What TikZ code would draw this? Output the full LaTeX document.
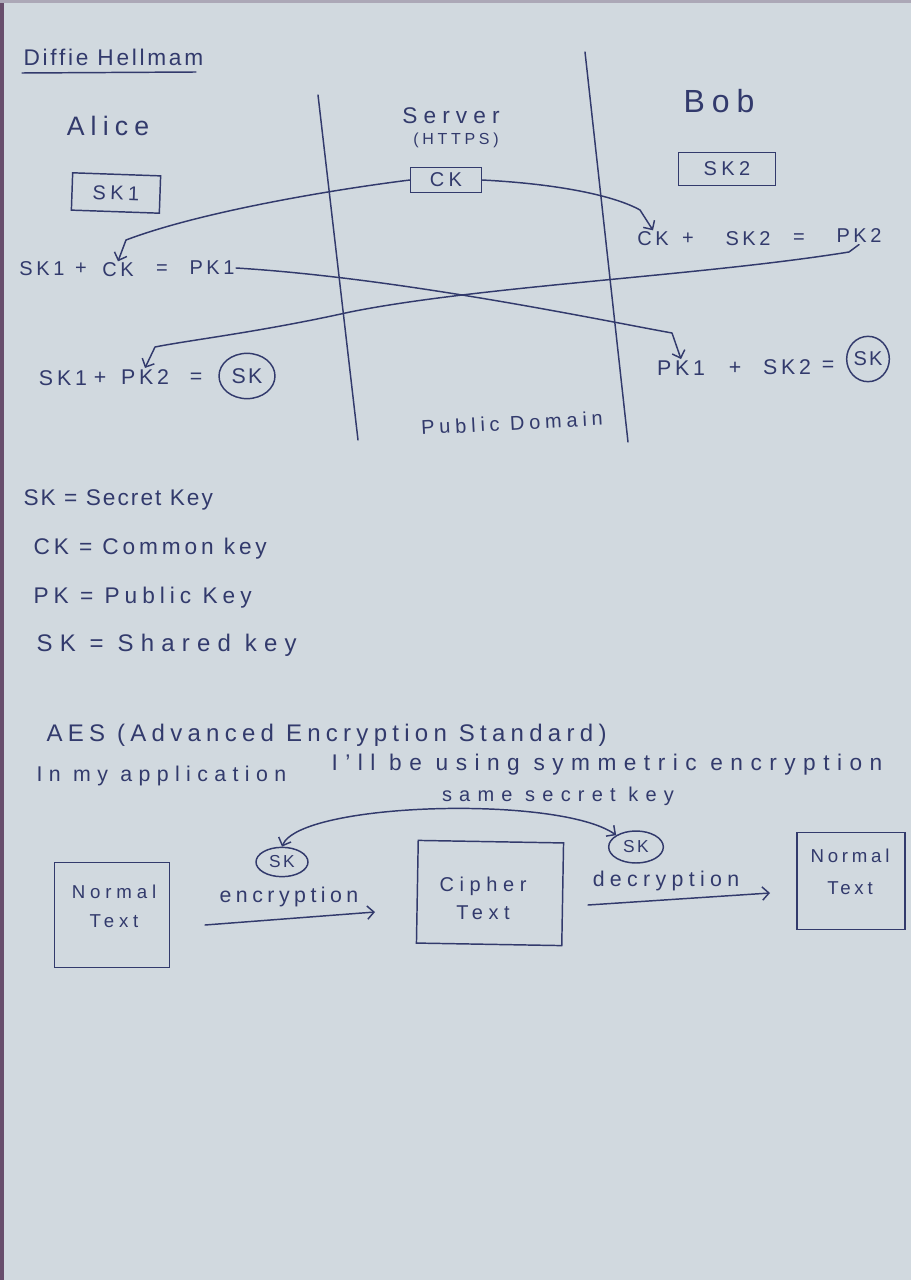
\documentclass[tikz,border=0pt]{standalone}
\usepackage{fontspec}
\setmainfont{Liberation Sans}
\usetikzlibrary{arrows.meta,shapes.geometric}

\definecolor{paper}{RGB}{209,217,223}
\definecolor{inkc}{RGB}{50,58,108}
\definecolor{edgec}{RGB}{104,78,108}

% size and letter spacing of hand-lettered labels
\newcommand{\hf}[2]{\fontsize{#1}{#1}\selectfont\addfontfeature{LetterSpace=#2}}

\tikzset{
  pen/.style={draw=inkc, line width=1.1pt, line cap=round, line join=round},
  lbl/.style={text=inkc, inner sep=1pt, font=\hf{15}{18}},
  keybox/.style={lbl, draw=inkc, line width=1.1pt, inner sep=0pt},
  shared/.style={lbl, draw=inkc, line width=1.1pt, ellipse, inner sep=0pt},
  skoval/.style={lbl, draw=inkc, line width=1.1pt, ellipse, inner sep=0pt,
                 minimum width=39pt, minimum height=22pt, font=\hf{13}{14}},
  docbox/.style={draw=inkc, line width=1.1pt},
  doctext/.style={lbl, align=center, font=\hf{14}{26}},
  arr/.style={pen, -{Straight Barb[length=5pt,width=10pt]}},
  twoarr/.style={pen, {Straight Barb[length=5pt,width=10pt]}-{Straight Barb[length=5pt,width=10pt]}}
}

\begin{document}
\begin{tikzpicture}[x=0.75pt,y=-0.75pt]
% sheet of paper
\fill[paper] (0,0) rectangle (911,1280);
\fill[edgec] (0,0) rectangle (4,1280);
\fill[edgec!35!paper] (0,0) rectangle (911,3);
\useasboundingbox (0,0) rectangle (911,1280);

% ---------------- Diffie Hellman exchange ----------------
\node[lbl, font=\hf{17}{12}, anchor=west] (title) at (22,57) {Diffie Hellmam};
\coordinate (ulA) at (22,73);
\coordinate (ulB) at (196,72);
\draw[pen] (ulA) -- (ulB);

% lane separators
\coordinate (d1a) at (318,95);
\coordinate (d1b) at (358,440);
\coordinate (d2a) at (585,52);
\coordinate (d2b) at (628,442);
\draw[pen] (d1a) -- (d1b);
\draw[pen] (d2a) -- (d2b);

% parties
\node[lbl, font=\hf{20}{23}] (alice) at (108,126) {Alice};
\node[lbl, font=\hf{17}{27}] (server) at (451,116) {Server};
\node[lbl, font=\hf{12}{23}] (https) at (456,140) {(HTTPS)};
\node[lbl, font=\hf{24}{22}] (bob) at (719,101) {Bob};

% keys
\node[keybox, minimum width=66pt, minimum height=28pt, rotate=-2, font=\hf{15}{22}] (sk1) at (116,193) {SK1};
\node[keybox, minimum width=53pt, minimum height=19pt, font=\hf{15}{22}] (ck) at (446,180) {CK};
\node[keybox, minimum width=73pt, minimum height=25pt, font=\hf{15}{22}] (sk2) at (727,169) {SK2};

% Bob: CK + SK2 = PK2
\node[lbl] (bck) at (653,239) {CK};
\node[lbl] (bplus) at (688,239) {+};
\node[lbl] (bsk2) at (748,239) {SK2};
\node[lbl] (beq) at (799,239) {=};
\node[lbl] (pk2) at (859,236) {PK2};

% Alice: SK1 + CK = PK1
\node[lbl] (asum) at (42,269) {SK1};
\node[lbl] (aplus) at (81,269) {+};
\node[lbl] (ack) at (118,270) {CK};
\node[lbl] (aeq) at (162,270) {=};
\node[lbl] (pk1) at (212,268) {PK1};

% Alice: SK1 + PK2 = SK
\node[lbl, font=\hf{16}{18}] (asum2) at (63,378) {SK1};
\node[lbl, font=\hf{16}{18}] (aplus2) at (100,378) {+};
\node[lbl, font=\hf{16}{18}] (apk2) at (145,377) {PK2};
\node[lbl, font=\hf{16}{18}] (aeq2) at (196,378) {=};
\node[shared, minimum width=42pt, minimum height=34pt, font=\hf{16}{10}] (ask) at (247,376) {SK};

% Bob: PK1 + SK2 = SK
\node[lbl, font=\hf{16}{18}] (bpk1) at (681,368) {PK1};
\node[lbl, font=\hf{16}{18}] (bplus2) at (735,368) {+};
\node[lbl, font=\hf{16}{18}] (bsk2b) at (787,367) {SK2};
\node[lbl, font=\hf{16}{18}] (beq2) at (828,366) {=};
\node[shared, minimum width=32pt, minimum height=34pt, font=\hf{15}{10}] (bsk) at (868,359) {SK};

\node[lbl, rotate=3, font=\hf{15}{24}] (public) at (512,423) {Public Domain};

% exchanged values
\draw[arr] (ck.west) .. controls (330,190) and (200,212) .. (126,240) -- (ack.north);
\draw[arr] (ck.east) .. controls (560,184) and (615,196) .. (640,210) -- (bck.north);
\draw[arr] (pk1.east) .. controls (400,278) and (600,320) .. (672,333) -- (bpk1.north);
\draw[arr] (pk2.south) -- (849,252) .. controls (700,276) and (480,286) .. (350,312)
           .. controls (260,332) and (190,340) .. (155,347) -- (apk2.north);

% ---------------- legend ----------------
\node[lbl, font=\hf{17}{9}, anchor=west] (lg1) at (22,500) {SK = Secret Key};
\node[lbl, font=\hf{17}{17}, anchor=west] (lg2) at (32,549) {CK = Common key};
\node[lbl, font=\hf{17}{22}, anchor=west] (lg3) at (32,598) {PK = Public Key};
\node[lbl, font=\hf{18}{30}, anchor=west] (lg4) at (35,645) {SK = Shared key};

% ---------------- AES ----------------
\node[lbl, font=\hf{18}{22}, anchor=west] (aes) at (45,735) {AES (Advanced Encryption Standard)};
\node[lbl, font=\hf{16}{30}, anchor=west] (app) at (35,776) {In my application};
\node[lbl, font=\hf{17}{33}, anchor=west] (using) at (330,765) {I'll be using symmetric encryption};
\node[lbl, font=\hf{15}{36}] (same) at (558,796) {same secret key};

\node[skoval] (eskl) at (282,862) {SK};
\node[skoval, minimum width=41pt, minimum height=24pt] (eskr) at (636,847) {SK};
\draw[twoarr] (eskl.north) .. controls (300,802) and (560,795) .. (eskr.north west);

\node[docbox, minimum width=86pt, minimum height=79pt] (nt1) at (112,915) {};
\node[doctext] (nt1t) at (114,906) {Normal\\[8pt]Text};
\node[docbox, minimum width=109pt, minimum height=77pt, rotate=-1] (ct) at (490,893) {};
\node[doctext, font=\hf{15}{28}] (ctt) at (483,898) {Cipher\\[6pt]Text};
\node[docbox, minimum width=81pt, minimum height=73pt] (nt2) at (851,881) {};
\node[doctext, font=\hf{14}{20}] (nt2t) at (850,872) {Normal\\[10pt]Text};

\node[lbl, font=\hf{16}{21}] (enc) at (289,897) {encryption};
\coordinate (encA) at (205,925);
\coordinate (encB) at (375,912);
\draw[arr] (encA) -- (encB);

\node[lbl, font=\hf{16}{25}] (dec) at (666,881) {decryption};
\coordinate (decA) at (588,905);
\coordinate (decB) at (770,893);
\draw[arr] (decA) -- (decB);
\end{tikzpicture}
\end{document}
